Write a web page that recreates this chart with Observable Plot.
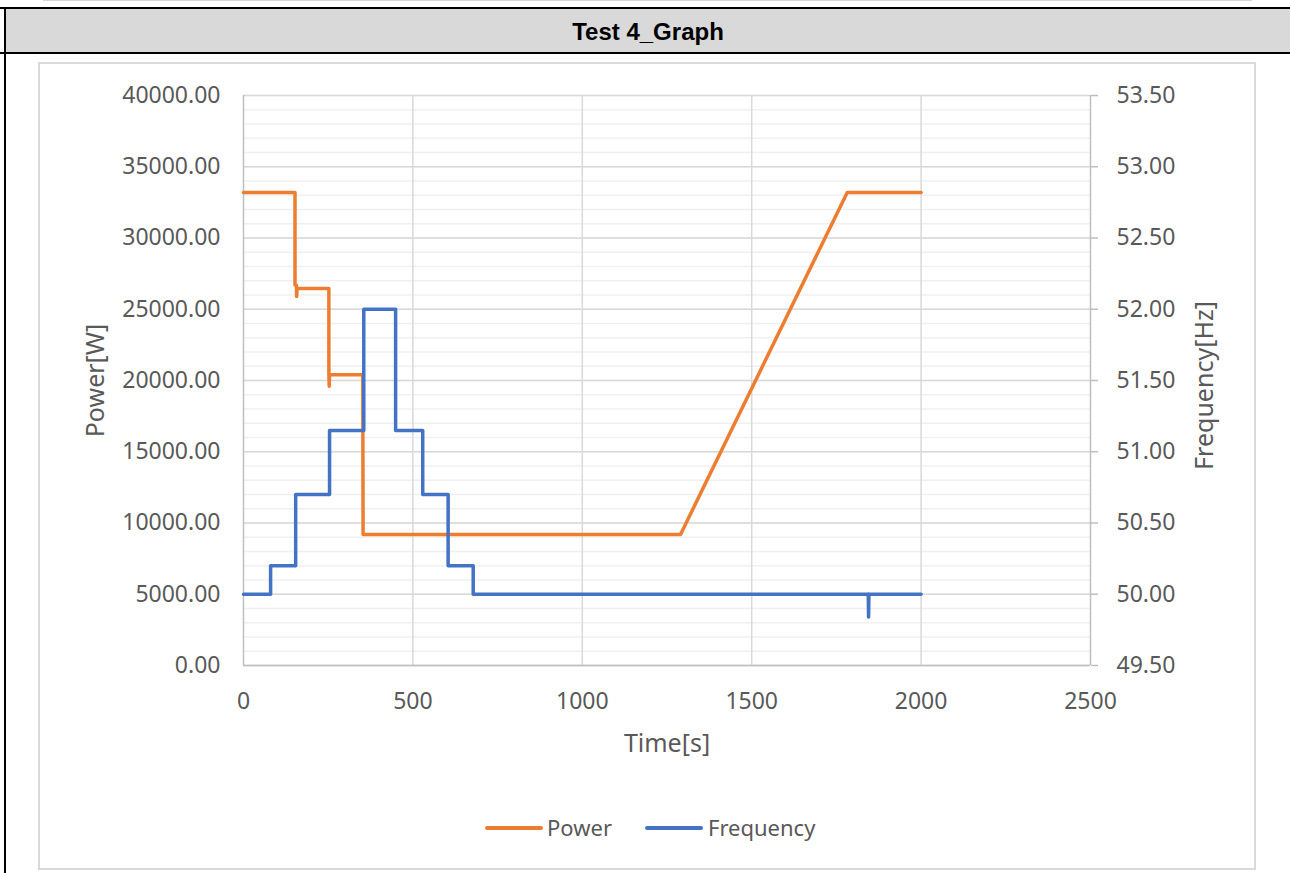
<!DOCTYPE html>
<html>
<head>
<meta charset="utf-8">
<script src="https://cdn.jsdelivr.net/npm/d3@7"></script>
<script src="https://cdn.jsdelivr.net/npm/@observablehq/plot@0.6"></script>
<style>
  html, body { margin: 0; padding: 0; background: #fff; }
  #page { position: relative; width: 1290px; height: 873px; overflow: hidden; background: #fff; }
  .abs { position: absolute; }
  #title { position: absolute; left: 6px; top: 9px; width: 1284px; height: 43px; background: #d9d9d9;
           font-family: "Liberation Sans", Arial, sans-serif; font-weight: bold; font-size: 24px; color: #000;
           display: flex; align-items: center; justify-content: center; padding-top: 2px; box-sizing: border-box; }
  #box { position: absolute; left: 38px; top: 62px; width: 1218px; height: 808px; box-sizing: border-box; border: 2px solid #d9d9d9; }
  #chart { position: absolute; left: 38px; top: 62px; }
  #legend { position: absolute; top: 812px; left: 0; width: 1290px; height: 30px; font-family: "Noto Sans", sans-serif;
            font-size: 22px; color: #595959; }
  .sw { position: absolute; height: 4px; border-radius: 2px; top: 14px; }
  .lt { position: absolute; top: 0px; line-height: 30px; }
</style>
</head>
<body>
<div id="page">
  <div class="abs" style="left:43px;top:0;width:1209px;height:1px;background:#d6d6d6"></div>
  <div class="abs" style="left:0;top:7px;width:1290px;height:2px;background:#000"></div>
  <div id="title">Test 4_Graph</div>
  <div class="abs" style="left:0;top:52px;width:1290px;height:2px;background:#000"></div>
  <div class="abs" style="left:4px;top:7px;width:2px;height:866px;background:#000"></div>
  <div id="box"></div>
  <div id="chart"></div>
  <div id="legend">
    <div class="sw" style="left:485px;width:58px;background:#ED7D31"></div>
    <div class="lt" style="left:547px">Power</div>
    <div class="sw" style="left:645px;width:58px;background:#4472C4"></div>
    <div class="lt" style="left:708px">Frequency</div>
  </div>
</div>
<script>
// ---- data ----
const powerTime  = [0, 152, 152, 156, 157, 158, 252, 252, 253, 254, 352, 353, 1290, 1782, 2000];
const powerValue = [33200, 33200, 26700, 26700, 25900, 26450, 26450, 20500, 19600, 20400, 20400, 9200, 9200, 33200, 33200];

const freqTime  = [0, 80, 80, 154, 154, 254, 254, 355, 355, 449, 449, 529, 529, 604, 604, 678, 678, 1844, 1845, 1846, 2000];
const freqValue = [50, 50, 50.2, 50.2, 50.7, 50.7, 51.15, 51.15, 52, 52, 51.15, 51.15, 50.7, 50.7, 50.2, 50.2, 50, 50, 49.84, 50, 50];

const powerTicks = [0, 5000, 10000, 15000, 20000, 25000, 30000, 35000, 40000];
const freqTicks = [49.5, 50, 50.5, 51, 51.5, 52, 52.5, 53, 53.5];
const timeTicks = [0, 500, 1000, 1500, 2000, 2500];
const minorTicks = d3.range(0, 40001, 1000);

const fMin = 49.5, fScale = 10000; // frequency mapped onto power scale: (f - 49.5) * 10000

const powerData = powerTime.map((t, i) => ({t, v: powerValue[i]}));
const freqData = freqTime.map((t, i) => ({t, f: freqValue[i]}));

const W = 1218, H = 808;
const chart = Plot.plot({
  width: W, height: H,
  marginLeft: 205, marginRight: 166, marginTop: 33, marginBottom: 205,
  x: {domain: [0, 2500]},
  y: {domain: [0, 40000]},
  style: {fontFamily: "'Noto Sans', sans-serif", fontSize: "23px", color: "#595959", background: "transparent", overflow: "visible"},
  marks: [
    Plot.gridY(minorTicks, {stroke: "#f0f0f0", strokeOpacity: 1, strokeWidth: 1.5}),
    Plot.gridY(powerTicks, {stroke: "#d9d9d9", strokeOpacity: 1, strokeWidth: 1.5}),
    Plot.gridX(timeTicks.slice(1, -1), {stroke: "#d9d9d9", strokeOpacity: 1, strokeWidth: 1.5}),
    Plot.ruleX([0, 2500], {stroke: "#bfbfbf", strokeWidth: 1.5}),
    Plot.ruleY([0], {stroke: "#bfbfbf", strokeWidth: 1.5}),
    Plot.axisY(powerTicks, {anchor: "left", tickSize: 0, tickPadding: 23, tickFormat: d => d.toFixed(2), label: null, fill: "#595959"}),
    Plot.axisY(freqTicks.map(f => (f - fMin) * fScale), {anchor: "right", tickSize: 7, tickPadding: 19,
      tickFormat: v => (v / fScale + fMin).toFixed(2), label: null, stroke: "#bfbfbf", strokeWidth: 1.5, fill: "#595959"}),
    Plot.axisX(timeTicks, {anchor: "bottom", tickSize: 0, tickPadding: 27, tickFormat: d => String(d), label: null, fill: "#595959"}),
    Plot.line(powerData, {x: "t", y: "v", stroke: "#ED7D31", strokeWidth: 3.5}),
    Plot.line(freqData, {x: "t", y: d => (d.f - fMin) * fScale, stroke: "#4472C4", strokeWidth: 3.5}),
    Plot.text(["Time[s]"], {frameAnchor: "bottom", dy: 86, fontSize: 25, fill: "#595959", textAnchor: "middle"}),
    Plot.text(["Power[W]"], {frameAnchor: "left", rotate: -90, dx: -148, fontSize: 25, fill: "#595959", textAnchor: "middle"}),
    Plot.text(["Frequency[Hz]"], {frameAnchor: "right", rotate: -90, dx: 114, dy: 5, fontSize: 25, fill: "#595959", textAnchor: "middle"})
  ]
});
document.getElementById("chart").appendChild(chart);
</script>
</body>
</html>
